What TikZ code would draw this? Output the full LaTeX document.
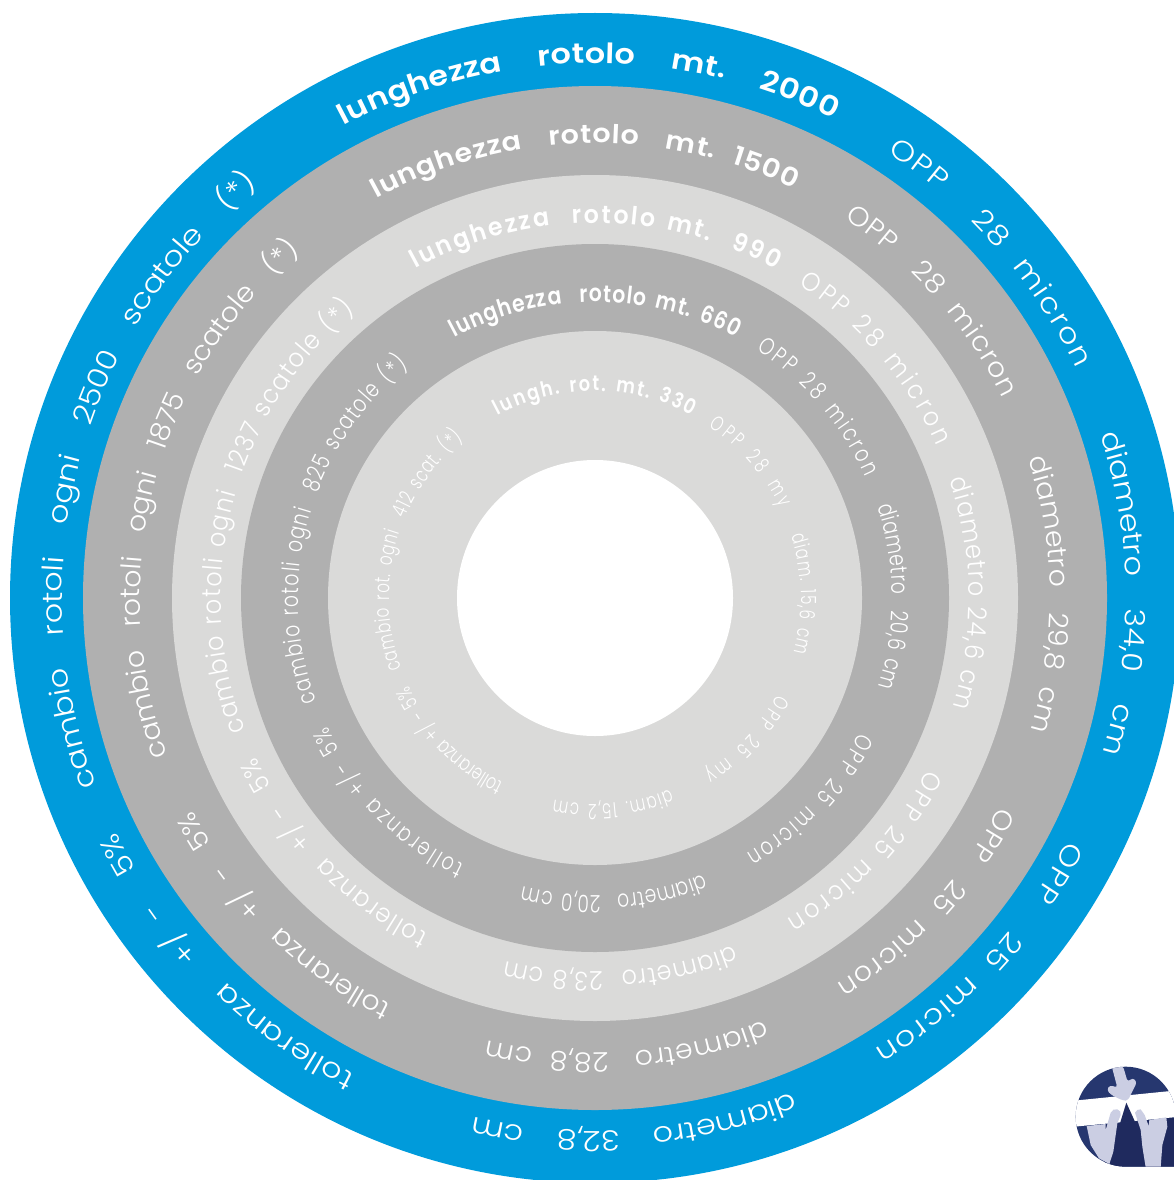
\documentclass[tikz,border=0pt]{standalone}
\usepackage{fontspec}
\newfontfamily\fLight{Poppins Light}[FakeStretch=1.14]
\newfontfamily\fLightB{Poppins Light}[FakeStretch=1.05]
\newfontfamily\fLightC{Poppins Light}[FakeStretch=0.92]
\newfontfamily\fLightD{Poppins Light}[FakeStretch=0.78]
\newfontfamily\fLightE{Poppins Light}[FakeStretch=0.72]
\newfontfamily\fBold{Poppins SemiBold}[FakeStretch=1.14]
\newfontfamily\fBoldB{Poppins SemiBold}[FakeStretch=1.1]
\newfontfamily\fBoldC{Poppins SemiBold}[FakeStretch=0.95]
\newfontfamily\fBoldD{Poppins SemiBold}[FakeStretch=0.85]
\newfontfamily\fBoldE{Poppins SemiBold}[FakeStretch=0.85]
\definecolor{cblue}{HTML}{009BDB}
\definecolor{cgray}{HTML}{B0B0B0}
\definecolor{clight}{HTML}{DADAD9}
\definecolor{logoA}{HTML}{26376F}
\definecolor{logoB}{HTML}{1F2A5E}
\definecolor{logoC}{HTML}{CBCEE3}
\newdimen\atTotal \newdimen\atPos \newdimen\atGap \newdimen\atWd \newcount\atN
\def\atStop{\atStop}
\def\atBox#1{\setbox0\hbox{\pgfinterruptpicture\atFont\ifx#1~\kern0.3em\else#1\fi\endpgfinterruptpicture}\atWd=\wd0\relax}
\def\atMeasure#1{\ifx#1\atStop\else
  \atBox{#1}\advance\atTotal by\atWd\relax\advance\atN by1\relax
  \expandafter\atMeasure\fi}
\def\atPlace#1{\ifx#1\atStop\else
  \atBox{#1}%
  \ifx#1~\else
    \pgfmathsetmacro\atA{\atStart-(\the\atPos+0.5*\the\atWd)/\atR*57.29578}%
    \node[inner sep=0pt,outer sep=0pt,text=white,anchor=base,rotate=\atA-90]
      at ({595+\atR*cos(\atA)},{-598+\atR*sin(\atA)}) {\atFont #1};%
  \fi
  \advance\atPos by\atWd\relax\advance\atPos by\atGap\relax
  \expandafter\atPlace\fi}
\newcommand{\arctxt}[5]{% font, radius, start, end, text (~ = space)
  \begingroup
  \def\atFont{#1}\def\atR{#2}\def\atStart{#3}\def\atEnd{#4}%
  \atTotal=0pt\relax\atN=0\relax
  \atMeasure#5\atStop
  \pgfmathsetlength\atGap{((\atStart-\atEnd)/57.29578*\atR-\the\atTotal)/(\the\atN-1)}%
  \atPos=0pt\relax
  \atPlace#5\atStop
  \endgroup}
\newcommand{\szA}{\fLight\fontsize{28}{28}\selectfont}
\newcommand{\szAb}{\fBold\fontsize{28}{28}\selectfont}
\newcommand{\szB}{\fLightB\fontsize{27}{27}\selectfont}
\newcommand{\szBb}{\fBoldB\fontsize{26}{26}\selectfont}
\newcommand{\szC}{\fLightC\fontsize{26}{26}\selectfont}
\newcommand{\szCb}{\fBoldC\fontsize{25}{25}\selectfont}
\newcommand{\szD}{\fLightD\fontsize{24}{24}\selectfont}
\newcommand{\szDb}{\fBoldD\fontsize{24}{24}\selectfont}
\newcommand{\szE}{\fLightE\fontsize{21}{21}\selectfont}
\newcommand{\szEb}{\fBoldE\fontsize{21}{21}\selectfont}
\begin{document}
\begin{tikzpicture}[x=1pt,y=1pt]
\useasboundingbox (0,0) rectangle (1174,-1180);
\clip (0,0) rectangle (1174,-1180);
\fill[cblue] (595,-598) circle[radius=585];
\fill[cgray] (595,-598) circle[radius=512];
\fill[clight] (595,-598) circle[radius=423];
\fill[cgray] (595,-598) circle[radius=354];
\fill[clight] (595,-598) circle[radius=267];
\fill[white] (595,-598) circle[radius=138];
% ring 1
\arctxt{\szAb}{535}{118}{63.5}{lunghezza~~~~rotolo~~~~mt.~~~~2000}
\arctxt{\szA}{533}{56.7}{25.5}{OPP~~~~28~~micron}
\arctxt{\szA}{531}{17.9}{-17}{diametro~~~~34,0~~~~cm}
\arctxt{\szA}{531}{-27.2}{-58.3}{OPP~~~~25~~micron}
\arctxt{\szA}{533}{-68.2}{-103.2}{diametro~~~~32,8~~~~cm}
\arctxt{\szA}{533}{-116.7}{-154}{tolleranza~~~~+/~~-~~~~5\%}
\arctxt{\szA}{533}{200.6}{129.2}{cambio~~~~rotoli~~~~ogni~~~~2500~~~~scatole~~~~(*)}
% ring 2
\arctxt{\szBb}{455}{118.7}{64}{lunghezza~~~rotolo~~~mt.~~1500}
\arctxt{\szB}{454}{56.7}{26.1}{OPP~~~28~~micron}
\arctxt{\szB}{455}{17.8}{-16.9}{diametro~~~29,8~~cm}
\arctxt{\szB}{455}{-27.3}{-58}{OPP~~~25~~micron}
\arctxt{\szB}{455}{-68.2}{-103.7}{diametro~~~28,8~~cm}
\arctxt{\szB}{455}{-116.6}{-152.1}{tolleranza~~~+/~~-~~~5\%}
\arctxt{\szB}{455}{200.2}{130.4}{cambio~~~rotoli~~~ogni~~~1875~~~scatole~~~(*)}
% ring 3
\arctxt{\szCb}{375}{118.6}{61.2}{lunghezza~~rotolo~mt.~~990}
\arctxt{\szC}{374}{57}{24}{OPP~28~micron}
\arctxt{\szC}{374}{18.4}{-17}{diametro~24,6~cm}
\arctxt{\szC}{374}{-27.2}{-59.2}{OPP~25~micron}
\arctxt{\szC}{374}{-68.3}{-103.9}{diametro~~23,8~cm}
\arctxt{\szC}{374}{-116.4}{-154.9}{tolleranza~~+/~-~~5\%}
\arctxt{\szC}{374}{200.8}{129.9}{cambio~rotoli~ogni~~1237~scatole~(*)}
% ring 4
\arctxt{\szDb}{296}{118.4}{61.6}{lunghezza~~rotolo~mt.~660}
\arctxt{\szD}{296}{57}{24}{OPP~28~micron}
\arctxt{\szD}{297}{18}{-17.5}{diametro~~20,6~cm}
\arctxt{\szD}{297}{-27}{-59.4}{OPP~25~micron}
\arctxt{\szD}{297}{-68.5}{-104}{diametro~~20,0~cm}
\arctxt{\szD}{297}{-116}{-154.5}{tolleranza~+/-~5\%}
\arctxt{\szD}{297}{200.3}{128.8}{cambio~rotoli~ogni~~825~scatole~(*)}
% ring 5
\arctxt{\szEb}{207}{118}{62}{lungh.~rot.~mt.~330}
\arctxt{\szE}{206}{56.5}{25.8}{OPP~28~my}
\arctxt{\szE}{206}{17.6}{-15.3}{diam.~15,6~cm}
\arctxt{\szE}{206}{-27.8}{-58}{OPP~25~my}
\arctxt{\szE}{206}{-68.6}{-101.5}{diam.~15,2~cm}
\arctxt{\szE}{206}{-116.3}{-154.7}{tolleranza~+/~-~5\%}
\arctxt{\szE}{206}{200.1}{129.6}{cambio~rot.~ogni~~412~scat.~(*)}
% logo (coordinates in crop pixels)
\begin{scope}[shift={(974,-980)},x=0.33333pt,y=-0.33333pt]
  \begin{scope}
    \clip (455,410) circle[radius=150] (455,560) rectangle (620,410);
    \fill[logoA] (300,255) rectangle (620,565);
    \fill[logoB] (340,440) -- (620,410) -- (620,565) -- (400,565) -- cycle;
    \fill[white] (300,362) -- (620,330) -- (620,410) -- (300,440) -- cycle;
    \fill[logoB] (457,368) -- (483,425) -- (438,430) -- cycle;
    \fill[logoC,rounded corners=3pt] (413,258) -- (447,258) -- (461,306) -- (476,293) -- (489,306) -- (476,332) -- (462,361) -- (448,362) -- (412,345) -- (398,330) -- (408,315) -- (430,323) -- cycle;
    \fill[logoC] (338,438) -- (395,432) -- (395,450) -- (410,398) to[out=60,in=160] (430,388) to[out=-20,in=70] (440,405) -- (430,430) -- (418,515) -- (406,552) -- (375,535) -- (350,495) -- cycle;
    \fill[logoC] (483,398) to[out=60,in=170] (500,388) -- (512,405) -- (524,438) -- (526,420) -- (577,412) -- (580,440) -- (565,495) -- (560,562) -- (515,562) -- (505,500) -- (500,450) -- cycle;
  \end{scope}
\end{scope}
\end{tikzpicture}
\end{document}
